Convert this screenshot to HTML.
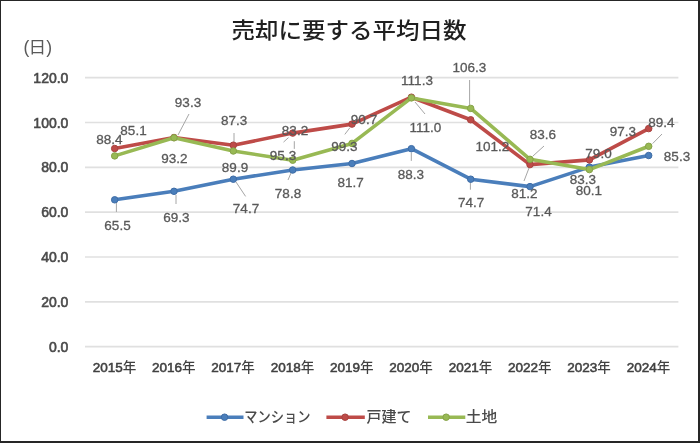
<!DOCTYPE html>
<html lang="ja"><head><meta charset="utf-8"><title>売却に要する平均日数</title>
<style>
html,body{margin:0;padding:0;background:#fff;}
body{width:700px;height:443px;overflow:hidden;position:relative;}
svg{position:absolute;left:0;top:0;display:block;}
.t{font-family:"Liberation Sans","Noto Sans CJK JP",sans-serif;}
</style></head><body>
<svg width="700" height="443" viewBox="0 0 700 443">
<rect x="0" y="0" width="700" height="443" fill="#fff"/>

<line x1="85.0" y1="346.6" x2="678.4" y2="346.6" stroke="#e0e0e0" stroke-width="1.7"/>
<line x1="85.0" y1="301.8" x2="678.4" y2="301.8" stroke="#e0e0e0" stroke-width="1.7"/>
<line x1="85.0" y1="257.0" x2="678.4" y2="257.0" stroke="#e0e0e0" stroke-width="1.7"/>
<line x1="85.0" y1="212.2" x2="678.4" y2="212.2" stroke="#e0e0e0" stroke-width="1.7"/>
<line x1="85.0" y1="167.3" x2="678.4" y2="167.3" stroke="#e0e0e0" stroke-width="1.7"/>
<line x1="85.0" y1="122.5" x2="678.4" y2="122.5" stroke="#e0e0e0" stroke-width="1.7"/>
<line x1="85.0" y1="77.7" x2="678.4" y2="77.7" stroke="#e0e0e0" stroke-width="1.7"/>
<text class="t" transform="translate(349 38) scale(1 0.93)" x="0" y="0" text-anchor="middle" font-size="23.5" font-weight="500" fill="#1f1f1f">売却に要する平均日数</text>
<text class="t" x="23.6" y="52.6" font-size="17.5" fill="#595959">(</text>
<text class="t" x="28.6" y="52.6" font-size="15.8" fill="#595959" textLength="17.7" lengthAdjust="spacingAndGlyphs">日</text>
<text class="t" x="46.3" y="52.6" font-size="17.5" fill="#595959">)</text>
<text class="t" x="68.4" y="351.6" text-anchor="end" font-size="14" fill="#4a4a4a" stroke="#4a4a4a" stroke-width="0.6">0.0</text>
<text class="t" x="68.4" y="306.8" text-anchor="end" font-size="14" fill="#4a4a4a" stroke="#4a4a4a" stroke-width="0.6">20.0</text>
<text class="t" x="68.4" y="262.0" text-anchor="end" font-size="14" fill="#4a4a4a" stroke="#4a4a4a" stroke-width="0.6">40.0</text>
<text class="t" x="68.4" y="217.2" text-anchor="end" font-size="14" fill="#4a4a4a" stroke="#4a4a4a" stroke-width="0.6">60.0</text>
<text class="t" x="68.4" y="172.3" text-anchor="end" font-size="14" fill="#4a4a4a" stroke="#4a4a4a" stroke-width="0.6">80.0</text>
<text class="t" x="68.4" y="127.5" text-anchor="end" font-size="14" fill="#4a4a4a" stroke="#4a4a4a" stroke-width="0.6">100.0</text>
<text class="t" x="68.4" y="82.7" text-anchor="end" font-size="14" fill="#4a4a4a" stroke="#4a4a4a" stroke-width="0.6">120.0</text>
<text class="t" x="114.4" y="371.7" text-anchor="middle" font-size="13.5" fill="#404040"><tspan fill="#404040" stroke="#404040" stroke-width="0.55">2015</tspan><tspan font-weight="500">年</tspan></text>
<text class="t" x="173.7" y="371.7" text-anchor="middle" font-size="13.5" fill="#404040"><tspan fill="#404040" stroke="#404040" stroke-width="0.55">2016</tspan><tspan font-weight="500">年</tspan></text>
<text class="t" x="233.0" y="371.7" text-anchor="middle" font-size="13.5" fill="#404040"><tspan fill="#404040" stroke="#404040" stroke-width="0.55">2017</tspan><tspan font-weight="500">年</tspan></text>
<text class="t" x="292.4" y="371.7" text-anchor="middle" font-size="13.5" fill="#404040"><tspan fill="#404040" stroke="#404040" stroke-width="0.55">2018</tspan><tspan font-weight="500">年</tspan></text>
<text class="t" x="351.7" y="371.7" text-anchor="middle" font-size="13.5" fill="#404040"><tspan fill="#404040" stroke="#404040" stroke-width="0.55">2019</tspan><tspan font-weight="500">年</tspan></text>
<text class="t" x="411.1" y="371.7" text-anchor="middle" font-size="13.5" fill="#404040"><tspan fill="#404040" stroke="#404040" stroke-width="0.55">2020</tspan><tspan font-weight="500">年</tspan></text>
<text class="t" x="470.4" y="371.7" text-anchor="middle" font-size="13.5" fill="#404040"><tspan fill="#404040" stroke="#404040" stroke-width="0.55">2021</tspan><tspan font-weight="500">年</tspan></text>
<text class="t" x="529.8" y="371.7" text-anchor="middle" font-size="13.5" fill="#404040"><tspan fill="#404040" stroke="#404040" stroke-width="0.55">2022</tspan><tspan font-weight="500">年</tspan></text>
<text class="t" x="589.1" y="371.7" text-anchor="middle" font-size="13.5" fill="#404040"><tspan fill="#404040" stroke="#404040" stroke-width="0.55">2023</tspan><tspan font-weight="500">年</tspan></text>
<text class="t" x="648.4" y="371.7" text-anchor="middle" font-size="13.5" fill="#404040"><tspan fill="#404040" stroke="#404040" stroke-width="0.55">2024</tspan><tspan font-weight="500">年</tspan></text>
<line x1="189" y1="114" x2="178" y2="135" stroke="#a6a6a6" stroke-width="1"/>
<line x1="234" y1="133" x2="234" y2="146" stroke="#a6a6a6" stroke-width="1"/>
<line x1="288.5" y1="137.6" x2="283.5" y2="142.1" stroke="#a6a6a6" stroke-width="1"/>
<line x1="294.3" y1="141.2" x2="294.3" y2="148.9" stroke="#a6a6a6" stroke-width="1"/>
<line x1="116.4" y1="203" x2="116.4" y2="212" stroke="#a6a6a6" stroke-width="1"/>
<line x1="176" y1="195" x2="176" y2="204" stroke="#a6a6a6" stroke-width="1"/>
<line x1="236" y1="182" x2="245.6" y2="196.4" stroke="#a6a6a6" stroke-width="1"/>
<line x1="291" y1="173" x2="288" y2="180" stroke="#a6a6a6" stroke-width="1"/>
<line x1="411.3" y1="152.6" x2="411.3" y2="160.9" stroke="#a6a6a6" stroke-width="1"/>
<line x1="470.4" y1="181.4" x2="470.4" y2="189.7" stroke="#a6a6a6" stroke-width="1"/>
<line x1="469.6" y1="80" x2="469.6" y2="105" stroke="#a6a6a6" stroke-width="1"/>
<line x1="415" y1="102" x2="425" y2="114" stroke="#a6a6a6" stroke-width="1"/>
<line x1="544" y1="146" x2="533" y2="156" stroke="#a6a6a6" stroke-width="1"/>
<line x1="529" y1="168" x2="524" y2="181" stroke="#a6a6a6" stroke-width="1"/>
<line x1="662" y1="134" x2="652.6" y2="143.6" stroke="#a6a6a6" stroke-width="1"/>
<line x1="350" y1="127.6" x2="344.8" y2="134.4" stroke="#a6a6a6" stroke-width="1"/>
<polyline points="114.7,199.8 174.0,191.3 233.3,179.2 292.7,170.0 352.0,163.5 411.4,148.7 470.7,179.2 530.0,186.6 589.4,167.1 648.7,155.5" fill="none" stroke="#4A7EBB" stroke-width="3.6" stroke-linejoin="round" stroke-linecap="round"/><circle cx="114.7" cy="199.8" r="3.25" fill="#4A7EBB" stroke="#3F6DA6" stroke-width="1"/><circle cx="174.0" cy="191.3" r="3.25" fill="#4A7EBB" stroke="#3F6DA6" stroke-width="1"/><circle cx="233.3" cy="179.2" r="3.25" fill="#4A7EBB" stroke="#3F6DA6" stroke-width="1"/><circle cx="292.7" cy="170.0" r="3.25" fill="#4A7EBB" stroke="#3F6DA6" stroke-width="1"/><circle cx="352.0" cy="163.5" r="3.25" fill="#4A7EBB" stroke="#3F6DA6" stroke-width="1"/><circle cx="411.4" cy="148.7" r="3.25" fill="#4A7EBB" stroke="#3F6DA6" stroke-width="1"/><circle cx="470.7" cy="179.2" r="3.25" fill="#4A7EBB" stroke="#3F6DA6" stroke-width="1"/><circle cx="530.0" cy="186.6" r="3.25" fill="#4A7EBB" stroke="#3F6DA6" stroke-width="1"/><circle cx="589.4" cy="167.1" r="3.25" fill="#4A7EBB" stroke="#3F6DA6" stroke-width="1"/><circle cx="648.7" cy="155.5" r="3.25" fill="#4A7EBB" stroke="#3F6DA6" stroke-width="1"/>
<polyline points="114.7,148.5 174.0,137.5 233.3,145.2 292.7,133.1 352.0,124.1 411.4,97.2 470.7,119.8 530.0,164.6 589.4,159.9 648.7,128.6" fill="none" stroke="#BE4B48" stroke-width="3.6" stroke-linejoin="round" stroke-linecap="round"/><circle cx="114.7" cy="148.5" r="3.25" fill="#BE4B48" stroke="#A8423F" stroke-width="1"/><circle cx="174.0" cy="137.5" r="3.25" fill="#BE4B48" stroke="#A8423F" stroke-width="1"/><circle cx="233.3" cy="145.2" r="3.25" fill="#BE4B48" stroke="#A8423F" stroke-width="1"/><circle cx="292.7" cy="133.1" r="3.25" fill="#BE4B48" stroke="#A8423F" stroke-width="1"/><circle cx="352.0" cy="124.1" r="3.25" fill="#BE4B48" stroke="#A8423F" stroke-width="1"/><circle cx="411.4" cy="97.2" r="3.25" fill="#BE4B48" stroke="#A8423F" stroke-width="1"/><circle cx="470.7" cy="119.8" r="3.25" fill="#BE4B48" stroke="#A8423F" stroke-width="1"/><circle cx="530.0" cy="164.6" r="3.25" fill="#BE4B48" stroke="#A8423F" stroke-width="1"/><circle cx="589.4" cy="159.9" r="3.25" fill="#BE4B48" stroke="#A8423F" stroke-width="1"/><circle cx="648.7" cy="128.6" r="3.25" fill="#BE4B48" stroke="#A8423F" stroke-width="1"/>
<polyline points="114.7,155.9 174.0,137.8 233.3,151.0 292.7,160.2 352.0,143.4 411.4,97.9 470.7,108.4 530.0,159.3 589.4,169.6 648.7,146.3" fill="none" stroke="#98B954" stroke-width="3.6" stroke-linejoin="round" stroke-linecap="round"/><circle cx="114.7" cy="155.9" r="3.25" fill="#98B954" stroke="#86A348" stroke-width="1"/><circle cx="174.0" cy="137.8" r="3.25" fill="#98B954" stroke="#86A348" stroke-width="1"/><circle cx="233.3" cy="151.0" r="3.25" fill="#98B954" stroke="#86A348" stroke-width="1"/><circle cx="292.7" cy="160.2" r="3.25" fill="#98B954" stroke="#86A348" stroke-width="1"/><circle cx="352.0" cy="143.4" r="3.25" fill="#98B954" stroke="#86A348" stroke-width="1"/><circle cx="411.4" cy="97.9" r="3.25" fill="#98B954" stroke="#86A348" stroke-width="1"/><circle cx="470.7" cy="108.4" r="3.25" fill="#98B954" stroke="#86A348" stroke-width="1"/><circle cx="530.0" cy="159.3" r="3.25" fill="#98B954" stroke="#86A348" stroke-width="1"/><circle cx="589.4" cy="169.6" r="3.25" fill="#98B954" stroke="#86A348" stroke-width="1"/><circle cx="648.7" cy="146.3" r="3.25" fill="#98B954" stroke="#86A348" stroke-width="1"/>
<text class="t" x="109.4" y="144.4" text-anchor="middle" font-size="13.5" fill="#595959" stroke="#595959" stroke-width="0.3">88.4</text>
<text class="t" x="188" y="107" text-anchor="middle" font-size="13.5" fill="#595959" stroke="#595959" stroke-width="0.3">93.3</text>
<text class="t" x="235" y="172.4" text-anchor="middle" font-size="13.5" fill="#595959" stroke="#595959" stroke-width="0.3">89.9</text>
<text class="t" x="283" y="159.6" text-anchor="middle" font-size="13.5" fill="#595959" stroke="#595959" stroke-width="0.3">95.3</text>
<text class="t" x="344.3" y="151" text-anchor="middle" font-size="13.5" fill="#595959" stroke="#595959" stroke-width="0.3">99.3</text>
<text class="t" x="417" y="85" text-anchor="middle" font-size="13.5" fill="#595959" stroke="#595959" stroke-width="0.3">111.3</text>
<text class="t" x="492.5" y="151" text-anchor="middle" font-size="13.5" fill="#595959" stroke="#595959" stroke-width="0.3">101.2</text>
<text class="t" x="524.3" y="198.4" text-anchor="middle" font-size="13.5" fill="#595959" stroke="#595959" stroke-width="0.3">81.2</text>
<text class="t" x="582.8" y="184.4" text-anchor="middle" font-size="13.5" fill="#595959" stroke="#595959" stroke-width="0.3">83.3</text>
<text class="t" x="622.9" y="136" text-anchor="middle" font-size="13.5" fill="#595959" stroke="#595959" stroke-width="0.3">97.3</text>
<text class="t" x="133.5" y="135" text-anchor="middle" font-size="13.5" fill="#595959" stroke="#595959" stroke-width="0.3">85.1</text>
<text class="t" x="174.3" y="163" text-anchor="middle" font-size="13.5" fill="#595959" stroke="#595959" stroke-width="0.3">93.2</text>
<text class="t" x="234.2" y="125" text-anchor="middle" font-size="13.5" fill="#595959" stroke="#595959" stroke-width="0.3">87.3</text>
<text class="t" x="295" y="135" text-anchor="middle" font-size="13.5" fill="#595959" stroke="#595959" stroke-width="0.3">83.2</text>
<text class="t" x="364" y="124.4" text-anchor="middle" font-size="13.5" fill="#595959" stroke="#595959" stroke-width="0.3">90.7</text>
<text class="t" x="425.3" y="131.6" text-anchor="middle" font-size="13.5" fill="#595959" stroke="#595959" stroke-width="0.3">111.0</text>
<text class="t" x="469.3" y="72" text-anchor="middle" font-size="13.5" fill="#595959" stroke="#595959" stroke-width="0.3">106.3</text>
<text class="t" x="542.8" y="139.4" text-anchor="middle" font-size="13.5" fill="#595959" stroke="#595959" stroke-width="0.3">83.6</text>
<text class="t" x="598.5" y="158" text-anchor="middle" font-size="13.5" fill="#595959" stroke="#595959" stroke-width="0.3">79.0</text>
<text class="t" x="661.4" y="127.4" text-anchor="middle" font-size="13.5" fill="#595959" stroke="#595959" stroke-width="0.3">89.4</text>
<text class="t" x="117.5" y="230" text-anchor="middle" font-size="13.5" fill="#595959" stroke="#595959" stroke-width="0.3">65.5</text>
<text class="t" x="176.3" y="222" text-anchor="middle" font-size="13.5" fill="#595959" stroke="#595959" stroke-width="0.3">69.3</text>
<text class="t" x="246" y="213" text-anchor="middle" font-size="13.5" fill="#595959" stroke="#595959" stroke-width="0.3">74.7</text>
<text class="t" x="288" y="197.6" text-anchor="middle" font-size="13.5" fill="#595959" stroke="#595959" stroke-width="0.3">78.8</text>
<text class="t" x="350.6" y="187" text-anchor="middle" font-size="13.5" fill="#595959" stroke="#595959" stroke-width="0.3">81.7</text>
<text class="t" x="410.9" y="179.4" text-anchor="middle" font-size="13.5" fill="#595959" stroke="#595959" stroke-width="0.3">88.3</text>
<text class="t" x="471.1" y="207.1" text-anchor="middle" font-size="13.5" fill="#595959" stroke="#595959" stroke-width="0.3">74.7</text>
<text class="t" x="538.5" y="216.4" text-anchor="middle" font-size="13.5" fill="#595959" stroke="#595959" stroke-width="0.3">71.4</text>
<text class="t" x="588.8" y="195.4" text-anchor="middle" font-size="13.5" fill="#595959" stroke="#595959" stroke-width="0.3">80.1</text>
<text class="t" x="677" y="160.7" text-anchor="middle" font-size="13.5" fill="#595959" stroke="#595959" stroke-width="0.3">85.3</text>
<line x1="206.6" y1="417.2" x2="243.5" y2="417.2" stroke="#4A7EBB" stroke-width="3.6"/><circle cx="224.55" cy="417.2" r="3.25" fill="#4A7EBB" stroke="#3F6DA6" stroke-width="1"/><text class="t" x="244.2" y="422.2" font-size="15" font-weight="500" fill="#4a4a4a" textLength="66.4" lengthAdjust="spacingAndGlyphs">マンション</text>
<line x1="326.4" y1="417.2" x2="364.8" y2="417.2" stroke="#BE4B48" stroke-width="3.6"/><circle cx="345.1" cy="417.2" r="3.25" fill="#BE4B48" stroke="#A8423F" stroke-width="1"/><text class="t" x="366.5" y="422.2" font-size="15" font-weight="500" fill="#4a4a4a">戸建て</text>
<line x1="428" y1="417.2" x2="465.3" y2="417.2" stroke="#98B954" stroke-width="3.6"/><circle cx="446.15" cy="417.2" r="3.25" fill="#98B954" stroke="#86A348" stroke-width="1"/><text class="t" x="465.8" y="422.2" font-size="15" font-weight="500" fill="#4a4a4a" textLength="31.5" lengthAdjust="spacingAndGlyphs">土地</text>
<rect x="0.5" y="0.5" width="698" height="441" fill="none" stroke="#262626" stroke-width="1"/>
<line x1="698.5" y1="0" x2="698.5" y2="443" stroke="#262626" stroke-width="1"/>
<line x1="0" y1="441.5" x2="700" y2="441.5" stroke="#262626" stroke-width="1"/>
<line x1="699.5" y1="0" x2="699.5" y2="443" stroke="#262626" stroke-width="1"/>
<line x1="0" y1="442.5" x2="700" y2="442.5" stroke="#262626" stroke-width="1"/>
</svg></body></html>
